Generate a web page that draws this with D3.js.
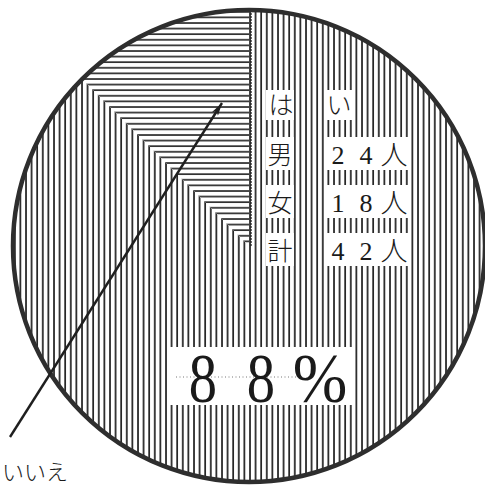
<!DOCTYPE html>
<html><head><meta charset="utf-8">
<script src="https://cdn.jsdelivr.net/npm/d3@7"></script>
<style>body{margin:0;background:#fff}svg{display:block}</style>
</head><body>
<svg id="c" width="485" height="488"></svg>
<script>
// ---- data ----
const categories = ["はい", "いいえ"];
const counts = [42, 6];
const rowHeader = ["は", "い"];
const rowLabels = ["男", "女", "計"];
const yesCounts = [24, 18, 42];
const unit = "人";

const svg = d3.select("#c");
const cx = 249, cy = 246, R = 236;
const ink = "#1f1f1f";

const defs = svg.append("defs");
const pv = defs.append("pattern").attr("id", "vh").attr("patternUnits", "userSpaceOnUse")
  .attr("width", 5.6).attr("height", 10);
pv.append("rect").attr("width", 5.6).attr("height", 10).attr("fill", "#fff");
pv.append("line").attr("x1", 1).attr("x2", 1).attr("y1", 0).attr("y2", 10)
  .attr("stroke", ink).attr("stroke-width", 1.7);
const ph = defs.append("pattern").attr("id", "hh").attr("patternUnits", "userSpaceOnUse")
  .attr("width", 10).attr("height", 5.6);
ph.append("rect").attr("width", 10).attr("height", 5.6).attr("fill", "#fff");
ph.append("line").attr("y1", 1).attr("y2", 1).attr("x1", 0).attr("x2", 10)
  .attr("stroke", ink).attr("stroke-width", 1.6);
const ah = defs.append("marker").attr("id", "ah").attr("viewBox", "0 0 13 7")
  .attr("refX", 13).attr("refY", 3.5).attr("markerWidth", 13).attr("markerHeight", 7)
  .attr("markerUnits", "userSpaceOnUse").attr("orient", "auto");
ah.append("path").attr("d", "M0,0 L13,3.5 L0,7 L3,3.5 Z").attr("fill", ink);

const pie = d3.pie().sort(null).startAngle(0).endAngle(2 * Math.PI);
const arcs = pie(counts);
const arc = d3.arc().innerRadius(0).outerRadius(R);
const g = svg.append("g").attr("transform", `translate(${cx},${cy})`);
g.selectAll("path.s").data(arcs).join("path").attr("class", "s")
  .attr("d", arc)
  .attr("fill", (d, i) => i === 0 ? "url(#vh)" : "url(#hh)");
g.append("line").attr("x1", 2).attr("x2", 2).attr("y1", 0).attr("y2", -R)
  .attr("stroke", ink).attr("stroke-width", 1.3).attr("stroke-dasharray", "2,1");
g.append("circle").attr("r", R).attr("fill", "none").attr("stroke", "#2e2e2e").attr("stroke-width", 4.5);

// text boxes
const jp = "'Noto Sans CJK JP', sans-serif";
const serif = "'Liberation Serif', 'DejaVu Serif', serif";
const baselines = [114, 164, 212, 260];
const boxes = svg.append("g");
boxes.append("rect").attr("x", 266).attr("y", baselines[0] - 24).attr("width", 28).attr("height", 30).attr("fill", "#fff");
boxes.append("rect").attr("x", 325).attr("y", baselines[0] - 24).attr("width", 28).attr("height", 30).attr("fill", "#fff");
rowLabels.forEach((l, i) => {
  const b = baselines[i + 1];
  boxes.append("rect").attr("x", 266).attr("y", b - 27).attr("width", 28).attr("height", 33).attr("fill", "#fff");
  boxes.append("rect").attr("x", 325).attr("y", b - 27).attr("width", 85).attr("height", 33).attr("fill", "#fff");
});

const t = svg.append("g").attr("fill", "#1a1a1a");
t.append("text").attr("x", 281).attr("y", baselines[0]).attr("text-anchor", "middle")
  .attr("font-family", jp).attr("font-size", 25).attr("font-weight", 300).text(rowHeader[0]);
t.append("text").attr("x", 339).attr("y", baselines[0]).attr("text-anchor", "middle")
  .attr("font-family", jp).attr("font-size", 25).attr("font-weight", 300).text(rowHeader[1]);
rowLabels.forEach((l, i) => {
  const b = baselines[i + 1];
  t.append("text").attr("x", 280).attr("y", b).attr("text-anchor", "middle")
    .attr("font-family", jp).attr("font-size", 25).attr("font-weight", 300).text(l);
  const digits = String(yesCounts[i]).split("");
  digits.forEach((d, j) => {
    t.append("text").attr("x", 338 + j * 28).attr("y", b).attr("text-anchor", "middle")
      .attr("font-family", serif).attr("font-size", 26).text(d);
  });
  t.append("text").attr("x", 394).attr("y", b + 1).attr("text-anchor", "middle")
    .attr("font-family", jp).attr("font-size", 27).attr("font-weight", 300).text(unit);
});

// percentage box
const total = d3.sum(counts);
const pct = Math.round(counts[0] / total * 100);
const pctChars = (String(pct) + "%").split("");
svg.append("rect").attr("x", 170).attr("y", 347).attr("width", 183).attr("height", 58).attr("fill", "#fff");
svg.append("line").attr("x1", 176).attr("x2", 298).attr("y1", 377).attr("y2", 377)
  .attr("stroke", "#777").attr("stroke-width", 1).attr("stroke-dasharray", "1,2.5");
const pxs = [203, 261, 320];
const sx = [0.82, 0.82, 0.95];
pctChars.forEach((c, i) => {
  svg.append("text").attr("transform", `translate(${pxs[i]},402) scale(${sx[i]},1)`)
    .attr("text-anchor", "middle").attr("font-family", serif).attr("font-size", 69)
    .attr("fill", "#1a1a1a").text(c);
});

// arrow to いいえ slice
svg.append("line").attr("x1", 10).attr("y1", 437).attr("x2", 222).attr("y2", 103)
  .attr("stroke", ink).attr("stroke-width", 2.4).attr("marker-end", "url(#ah)");
svg.append("text").attr("x", 2).attr("y", 480).attr("font-family", jp).attr("font-size", 22)
  .attr("font-weight", 300).attr("fill", "#1a1a1a").text(categories[1]);
</script>
</body></html>
